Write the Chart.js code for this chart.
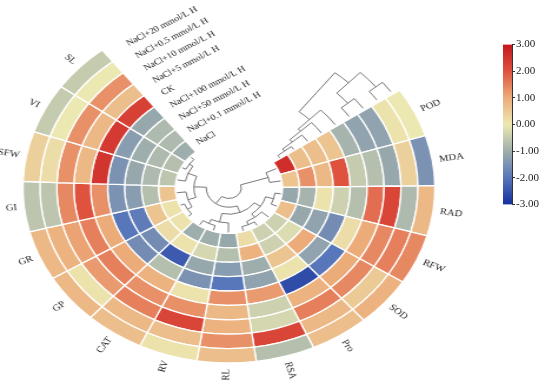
<!DOCTYPE html>
<html>
<head>
<meta charset="utf-8">
<script src="https://cdn.jsdelivr.net/npm/chart.js@4.4.0/dist/chart.umd.min.js"></script>
<style>
  html, body { margin: 0; padding: 0; background: #fff; }
  body { width: 550px; height: 383px; position: relative; overflow: hidden; }
  #wrap { position: absolute; left: 0; top: 0; width: 467px; height: 383px; transform: scaleX(1.177); transform-origin: 0 0; }
  #barWrap { position: absolute; left: 503px; top: 37px; width: 47px; height: 175px; }
</style>
</head>
<body>
<div id="wrap"><canvas id="ring" width="467" height="383"></canvas></div>
<div id="barWrap"><canvas id="bar" width="47" height="175"></canvas></div>
<script>
// variables, clockwise from POD
const variables = ['POD', 'MDA', 'RAD', 'RFW', 'SOD', 'Pro', 'RSA', 'RL', 'RV', 'CAT', 'GP', 'GR', 'GI', 'SFW', 'VI', 'SL'];
// treatments, outer ring first
const treatments = ['NaCl+20 mmol/L H', 'NaCl+0.5 mmol/L H', 'NaCl+10 mmol/L H', 'NaCl+5 mmol/L H', 'CK',
  'NaCl+100 mmol/L H', 'NaCl+50 mmol/L H', 'NaCl+0.1 mmol/L H', 'NaCl'];

const nacl20  = [0.0, -1.5, 0.8, 1.4, 0.9, 0.7, -0.7, 0.7, 0.1, 0.7, 0.8, 0.8, -0.6, 0.4, -0.5, -0.5];
const nacl05  = [0.1, 0.4, -0.8, 1.5, 0.5, 0.8, 2.2, 1.3, 0.7, 0.8, 0.1, 0.9, -0.6, 0.2, 0.0, 0.0];
const nacl10  = [-1.2, -1.1, 2.2, 1.4, 1.4, 1.5, -0.3, 0.9, 2.2, 1.5, 1.2, 1.1, 1.4, 1.3, 1.3, 1.3];
const nacl5   = [-1.2, -0.7, 1.7, 1.0, 1.0, 0.9, -0.4, 0.8, 1.3, 1.3, 1.5, 1.5, 2.0, 0.8, 0.8, 0.7];
const ck      = [-0.9, -0.5, -0.7, 0.2, -2.0, -2.6, 1.2, 1.3, 0.1, 0.9, 1.0, 1.0, 1.3, 2.5, 2.4, 2.3];
const nacl100 = [0.6, 2.0, -0.4, -1.6, -1.2, 0.1, -1.2, -2.0, -1.5, -0.7, -1.6, -2.0, -1.5, -1.5, -1.3, -1.1];
const nacl50  = [0.7, 0.8, 0.1, -1.2, 1.0, 0.6, -1.0, -1.3, -1.1, -2.4, -1.6, -1.9, -1.3, -1.1, -1.0, -0.8];
const nacl01  = [0.7, 1.3, -0.9, -1.1, -0.2, -0.4, 0.9, -0.7, -0.3, 0.1, 0.2, 0.6, -0.7, -0.8, -0.8, -0.8];
const nacl    = [2.6, 0.6, -1.1, 0.7, -0.4, -0.4, 0.2, -1.1, -1.0, -1.0, 0.1, 0.1, 0.6, -0.6, -0.7, -1.0];
const ringValues = [nacl20, nacl05, nacl10, nacl5, ck, nacl100, nacl50, nacl01, nacl];

// colour bar
const scaleMin = -3;
const scaleMax = 3;
const scaleTicks = [3, 2, 1, 0, -1, -2, -3];

// clustering trees: [childA, childB, height]; leaves first, new nodes numbered after them
const colTree = [
  [15, 14, 0.235], [16, 13, 0.215], [11, 10, 0.235], [12, 18, 0.21], [17, 19, 0.17],
  [9, 8, 0.225], [21, 7, 0.2], [6, 5, 0.23], [23, 4, 0.21], [3, 2, 0.225],
  [24, 25, 0.185], [22, 26, 0.15], [20, 27, 0.11], [1, 0, 0.2], [28, 29, 0.06]
];
const rowTree = [
  [0, 1, 4], [2, 3, 5], [9, 10, 11], [7, 8, 3], [6, 12, 5.5], [5, 13, 8], [4, 14, 10], [11, 15, 17]
];

const stopValues = [-3, -2, -1, 0, 1, 2, 3];
const stopColors = [[20, 48, 158], [88, 118, 186], [158, 174, 172], [236, 232, 178], [236, 172, 122], [222, 82, 62], [198, 22, 30]];

function valueColor(v) {
  if (v <= stopValues[0]) return 'rgb(' + stopColors[0].join(',') + ')';
  for (let i = 1; i < stopValues.length; i++) {
    if (v <= stopValues[i]) {
      const t = (v - stopValues[i - 1]) / (stopValues[i] - stopValues[i - 1]);
      const a = stopColors[i - 1], b = stopColors[i];
      const c = a.map((x, k) => Math.round(x + (b[k] - x) * t));
      return 'rgb(' + c.join(',') + ')';
    }
  }
  return 'rgb(' + stopColors[stopColors.length - 1].join(',') + ')';
}

const DEG = Math.PI / 180;

const ringText = {
  id: 'ringText',
  afterDatasetsDraw(chart) {
    const ctx = chart.ctx;
    const outer = chart.getDatasetMeta(0).data;
    const innerMeta = chart.getDatasetMeta(treatments.length - 1).data;
    const cx = outer[0].x, cy = outer[0].y;
    const R = outer[0].outerRadius;
    const r0 = innerMeta[0].innerRadius;
    ctx.save();

    // variable names
    ctx.font = '9px "Liberation Serif"';
    ctx.fillStyle = '#222';
    ctx.textBaseline = 'middle';
    outer.forEach((arc, j) => {
      const a = (arc.startAngle + arc.endAngle) / 2;
      const deg = ((a / DEG) % 360 + 360) % 360;
      ctx.save();
      ctx.translate(cx + Math.cos(a) * (R + 6), cy + Math.sin(a) * (R + 6));
      if (deg > 90 && deg < 270) {
        ctx.rotate(a + Math.PI);
        ctx.textAlign = 'right';
      } else {
        ctx.rotate(a);
        ctx.textAlign = 'left';
      }
      ctx.fillText(variables[j], 0, 0);
      ctx.restore();
    });

    // treatment names in the gap
    ctx.font = '8.5px "Liberation Serif"';
    ctx.textAlign = 'left';
    const endEdge = outer[outer.length - 1].endAngle;
    treatments.forEach((name, i) => {
      const arc = chart.getDatasetMeta(i).data[0];
      const r = (arc.innerRadius + arc.outerRadius) / 2;
      const a = endEdge + 7 * DEG;
      ctx.save();
      ctx.translate(cx + Math.cos(a) * r, cy + Math.sin(a) * r);
      ctx.rotate(a + Math.PI / 2);
      ctx.fillText(name, 0, 0);
      ctx.restore();
    });

    ctx.strokeStyle = '#6a6a6a';
    ctx.lineWidth = 0.9;

    // column tree inside the rings
    const cpos = outer.map(arc => ({ a: (arc.startAngle + arc.endAngle) / 2, r: r0 - 1 }));
    colTree.forEach(([i, j, h]) => {
      const p = cpos[i], q = cpos[j];
      const rr = h * R;
      ctx.beginPath();
      ctx.moveTo(cx + Math.cos(p.a) * p.r, cy + Math.sin(p.a) * p.r);
      ctx.lineTo(cx + Math.cos(p.a) * rr, cy + Math.sin(p.a) * rr);
      ctx.moveTo(cx + Math.cos(q.a) * q.r, cy + Math.sin(q.a) * q.r);
      ctx.lineTo(cx + Math.cos(q.a) * rr, cy + Math.sin(q.a) * rr);
      ctx.moveTo(cx + Math.cos(Math.min(p.a, q.a)) * rr, cy + Math.sin(Math.min(p.a, q.a)) * rr);
      ctx.arc(cx, cy, rr, Math.min(p.a, q.a), Math.max(p.a, q.a));
      ctx.stroke();
      cpos.push({ a: (p.a + q.a) / 2, r: rr });
    });

    // row tree in the gap after POD
    const startEdge = outer[0].startAngle - 1 * DEG;
    const rpos = treatments.map((t, i) => {
      const arc = chart.getDatasetMeta(i).data[0];
      return { a: startEdge, r: (arc.innerRadius + arc.outerRadius) / 2 };
    });
    rowTree.forEach(([i, j, h]) => {
      const p = rpos[i], q = rpos[j];
      const aa = startEdge - h * DEG;
      ctx.beginPath();
      [p, q].forEach(s => {
        ctx.moveTo(cx + Math.cos(s.a) * s.r, cy + Math.sin(s.a) * s.r);
        ctx.arc(cx, cy, s.r, s.a, aa, true);
      });
      ctx.moveTo(cx + Math.cos(aa) * p.r, cy + Math.sin(aa) * p.r);
      ctx.lineTo(cx + Math.cos(aa) * q.r, cy + Math.sin(aa) * q.r);
      ctx.stroke();
      rpos.push({ a: aa, r: (p.r + q.r) / 2 });
    });

    ctx.restore();
  }
};

new Chart(document.getElementById('ring'), {
  type: 'doughnut',
  data: {
    labels: variables,
    datasets: ringValues.map((vals, i) => ({
      label: treatments[i],
      data: vals.map(() => 1),
      backgroundColor: vals.map(valueColor),
      borderColor: '#ffffff',
      borderWidth: 1.3
    }))
  },
  options: {
    responsive: false,
    animation: false,
    rotation: 56,
    circumference: 266,
    cutout: '26%',
    radius: 175,
    layout: { padding: { left: 0, right: 78, top: 30, bottom: 0 } },
    plugins: { legend: { display: false }, tooltip: { enabled: false } }
  },
  plugins: [ringText]
});

new Chart(document.getElementById('bar'), {
  type: 'bar',
  data: {
    labels: [''],
    datasets: [{
      data: [[scaleMin, scaleMax]],
      barPercentage: 1,
      categoryPercentage: 1,
      borderWidth: 0,
      backgroundColor: (c) => {
        const area = c.chart.chartArea;
        if (!area) return '#ccc';
        const g = c.chart.ctx.createLinearGradient(0, area.bottom, 0, area.top);
        stopValues.forEach((v, k) => {
          g.addColorStop((v - scaleMin) / (scaleMax - scaleMin), 'rgb(' + stopColors[k].join(',') + ')');
        });
        return g;
      }
    }]
  },
  options: {
    responsive: false,
    animation: false,
    layout: { padding: { top: 7, bottom: 6 } },
    plugins: { legend: { display: false }, tooltip: { enabled: false } },
    scales: {
      x: { display: false },
      y: {
        position: 'right',
        min: scaleMin,
        max: scaleMax,
        afterBuildTicks: (s) => { s.ticks = scaleTicks.map(v => ({ value: v })); },
        afterFit: (s) => { s.width = 38; },
        ticks: {
          callback: (v) => Number(v).toFixed(2),
          color: '#222',
          padding: 1,
          font: { family: 'Liberation Serif', size: 11 }
        },
        grid: { drawOnChartArea: false, tickLength: 3, color: '#333' },
        border: { color: '#333', width: 1 }
      }
    }
  }
});
</script>
</body>
</html>
